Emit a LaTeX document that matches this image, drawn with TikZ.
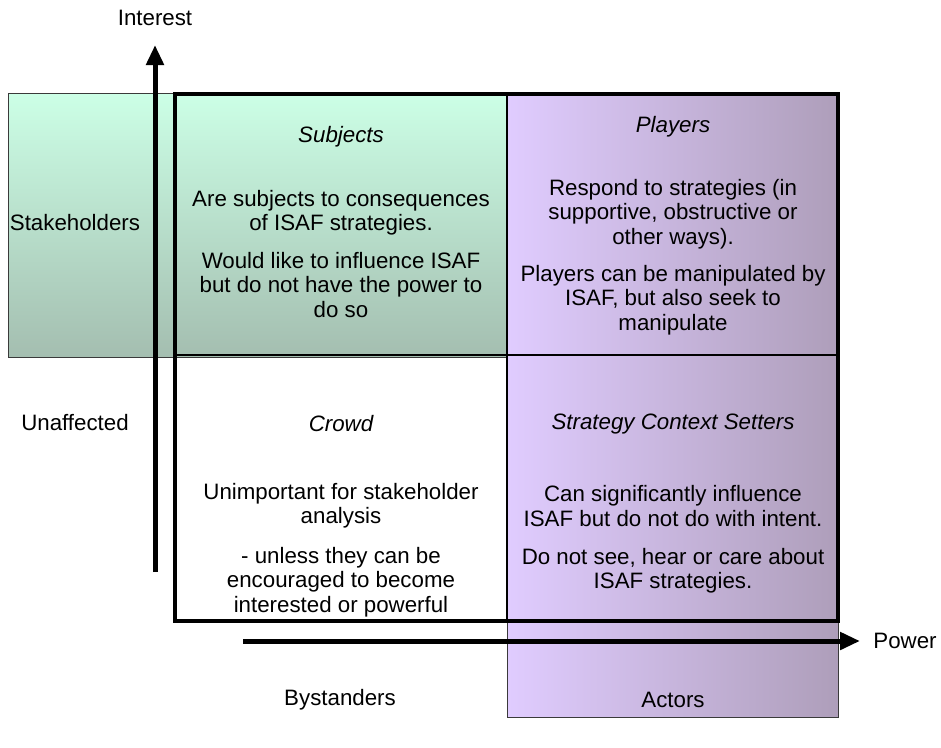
\documentclass[tikz,border=0pt]{standalone}
\usepackage{fontspec}
\setmainfont{Liberation Sans}
\usetikzlibrary{arrows.meta}
\definecolor{mintTop}{HTML}{CCFFE6}
\definecolor{mintBot}{HTML}{A4BEB0}
\definecolor{lilacL}{HTML}{E0CCFF}
\definecolor{lilacR}{HTML}{AE9EBA}
\definecolor{edgegray}{HTML}{3A3A3A}
\begin{document}
\begin{tikzpicture}[x=1pt,y=1pt,
  txt/.style={font=\fontsize{22.3}{24.3}\selectfont, align=center, inner sep=0pt},
  head/.style={txt, font=\fontsize{22.3}{24.3}\selectfont\itshape},
  band/.style={draw=edgegray, line width=0.9pt},
  frame/.style={line width=4pt},
  divider/.style={line width=2.5pt},
  axis/.style={line width=5pt, -{Triangle[length=20pt,width=17pt]}}]
\useasboundingbox (0,0) rectangle (941,-747);

% stakeholder band and actor column
\shade[band, top color=mintTop, bottom color=mintBot] (8,-93) rectangle (507,-357);
\shade[band, left color=lilacL, right color=lilacR] (507,-93) rectangle (838,-717);

% the 2x2 matrix
\draw[frame] (175,-94) rectangle (838,-621);
\draw[divider] (507,-94) -- (507,-621);
\draw[divider] (175,-355) -- (838,-355);

% axes
\coordinate (interestFoot) at (155,-572);
\coordinate (interestTip) at (155,-45);
\coordinate (powerFoot) at (243,-641);
\coordinate (powerTip) at (860,-641);
\draw[axis] (interestFoot) -- (interestTip);
\draw[axis] (powerFoot) -- (powerTip);
\node[txt] (interest) at (155,-18) {Interest};
\node[txt] (power) at (905,-641) {Power};

% band labels
\node[txt] (stake) at (75,-223) {Stakeholders};
\node[txt] (unaff) at (75,-423) {Unaffected};
\node[txt] (bystand) at (340,-700) {Bystanders};
\node[txt] (actors) at (673,-700) {Actors};

% quadrant texts
\node[head] (subjT) at (341,-137) {Subjects};
\node[txt] (subjA) at (341,-213) {Are subjects to consequences\\of ISAF strategies.};
\node[txt] (subjB) at (341,-285) {Would like to influence ISAF\\but do not have the power to\\do so};

\node[head] (playT) at (673,-127) {Players};
\node[txt] (playA) at (673,-214) {Respond to strategies (in\\supportive, obstructive or\\other ways).};
\node[txt] (playB) at (673,-300) {Players can be manipulated by\\ISAF, but also seek to\\manipulate};

\node[head] (crowdT) at (341,-424) {Crowd};
\node[txt] (crowdA) at (341,-506) {Unimportant for stakeholder\\analysis};
\node[txt] (crowdB) at (341,-582) {- unless they can be\\encouraged to become\\interested or powerful};

\node[head] (ctxT) at (673,-424) {Strategy Context Setters};
\node[txt] (ctxA) at (673,-506) {Can significantly influence\\ISAF but do not do with intent.};
\node[txt] (ctxB) at (673,-571) {Do not see, hear or care about\\ISAF strategies.};
\end{tikzpicture}
\end{document}
